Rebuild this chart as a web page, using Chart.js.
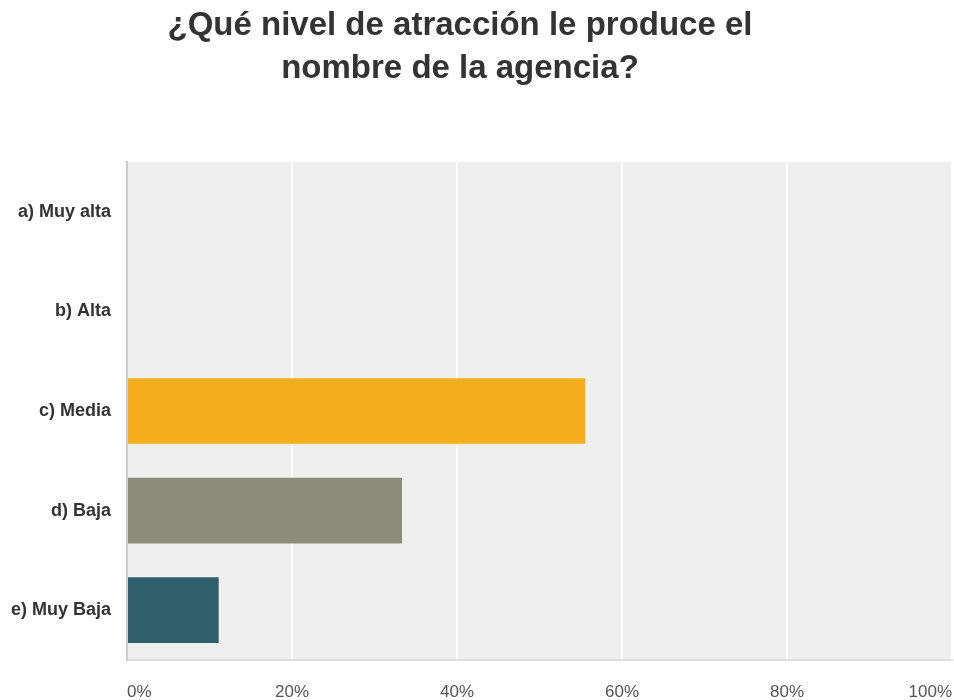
<!DOCTYPE html>
<html>
<head>
<meta charset="utf-8">
<script src="https://cdn.jsdelivr.net/npm/chart.js@4.4.0/dist/chart.umd.min.js"></script>
<style>
  html, body { margin: 0; padding: 0; background: #ffffff; }
  #wrap { width: 954px; height: 700px; position: relative; }
</style>
</head>
<body>
<div id="wrap"><canvas id="c" width="954" height="700"></canvas></div>
<script>
const titleLines = ['¿Qué nivel de atracción le produce el', 'nombre de la agencia?'];
const categories = ['a) Muy alta', 'b) Alta', 'c) Media', 'd) Baja', 'e) Muy Baja'];
const values = [0, 0, 55.56, 33.33, 11.11];
const barColors = ['#3A6E8F', '#D9542B', '#F7AE1E', '#8A8B79', '#2F5F6B'];
const xTicks = [0, 20, 40, 60, 80, 100];

const plotBg = {
  id: 'plotBg',
  beforeDraw(chart) {
    const {ctx, chartArea: a} = chart;
    ctx.save();
    ctx.fillStyle = '#efefef';
    ctx.fillRect(a.left, a.top, a.right - a.left, a.bottom - a.top);
    ctx.restore();
  }
};
const titlePlugin = {
  id: 'titleLines',
  afterDraw(chart) {
    const ctx = chart.ctx;
    ctx.save();
    ctx.fillStyle = '#333333';
    ctx.font = 'bold 33px "Liberation Sans Narrow", "Arial Narrow", "Liberation Sans", sans-serif';
    ctx.textAlign = 'center';
    ctx.textBaseline = 'middle';
    titleLines.forEach((t, i) => ctx.fillText(t, 460, 26 + i * 43));
    ctx.restore();
  }
};

new Chart(document.getElementById('c'), {
  type: 'bar',
  data: {
    labels: categories,
    datasets: [{
      data: values,
      backgroundColor: barColors,
      borderWidth: 0,
      categoryPercentage: 1,
      barPercentage: 0.66
    }]
  },
  options: {
    indexAxis: 'y',
    responsive: false,
    animation: false,
    layout: { padding: { top: 162, right: 2, bottom: 0, left: 0 } },
    plugins: { legend: { display: false }, title: { display: false }, tooltip: { enabled: false } },
    scales: {
      x: {
        min: 0, max: 100,
        afterBuildTicks(scale) { scale.ticks = xTicks.map(v => ({value: v})); },
        afterFit(scale) { scale.height = 40; scale.paddingLeft = 0; scale.paddingRight = 0; },
        grid: { color: '#ffffff', lineWidth: 2, drawTicks: false },
        border: { display: true, color: '#dedede', width: 2 },
        ticks: {
          align: 'inner',
          maxRotation: 0,
          padding: 22,
          color: '#555555',
          font: { family: '"Liberation Sans", Arial, sans-serif', size: 17 },
          callback: v => v + '%'
        }
      },
      y: {
        afterFit(scale) { scale.width = 127; },
        grid: { display: false, drawTicks: false },
        border: { display: true, color: '#cccccc', width: 2 },
        ticks: {
          padding: 16,
          color: '#333333',
          font: { family: '"Liberation Sans", Arial, sans-serif', size: 18, weight: 'bold' }
        }
      }
    }
  },
  plugins: [plotBg, titlePlugin]
});
</script>
</body>
</html>
